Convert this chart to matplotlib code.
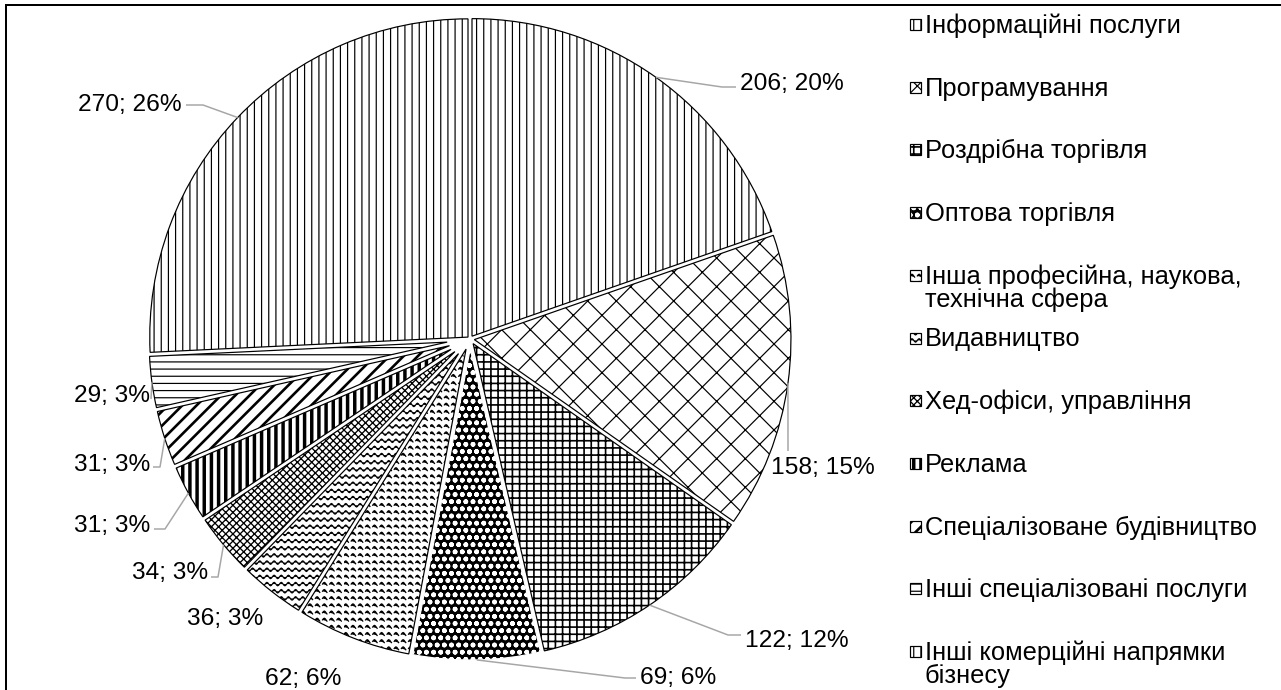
import warnings
import numpy as np
import matplotlib
matplotlib.use('Agg')
import matplotlib.pyplot as plt
from matplotlib import hatch as mhatch
from matplotlib.path import Path
from matplotlib.patches import Rectangle

warnings.filterwarnings('ignore', message='.*hatch.*')

W, H, DPI = 1281, 691, 86

categories = [
    'Інформаційні послуги',
    'Програмування',
    'Роздрібна торгівля',
    'Оптова торгівля',
    'Інша професійна, наукова,\nтехнічна сфера',
    'Видавництво',
    'Хед-офіси, управління',
    'Реклама',
    'Спеціалізоване будівництво',
    'Інші спеціалізовані послуги',
    'Інші комерційні напрямки\nбізнесу',
]
counts = [206, 158, 122, 69, 62, 36, 34, 31, 31, 29, 270]
shares = [20, 15, 12, 6, 6, 3, 3, 3, 3, 3, 26]

# Black and white fills, one per slice ('~' solid waves, 'w' broken waves, see below)
hatches = ['||', 'x', '++', 'oo', 'ww', '~~', 'xxxx', '||', '//', '--', '||']
faces = ['white', 'white', 'white', 'black', 'white', 'white', 'white', 'white', 'white', 'white', 'white']
hatch_widths = [1.0, 1.0, 1.4, 1.6, 1.0, 1.0, 1.1, 2.9, 2.2, 1.0, 1.0]


class WaveHatch(mhatch.HatchPatternBase):
    """Wavy horizontal lines: '~' draws them solid, 'w' draws them broken."""
    steps = 8

    def __init__(self, hatch, density):
        self.dashed = 'w' in hatch
        self.num_lines = int((hatch.count('~') + hatch.count('w')) * density)
        self.periods = max(self.num_lines, 1)
        self.num_vertices = self.num_lines * (self.periods * self.steps + 1)

    def set_vertices_and_codes(self, vertices, codes):
        n = self.periods * self.steps + 1
        xs = np.linspace(0, 1, n)
        wave = np.sin(2 * np.pi * self.periods * xs) * 0.24 / self.num_lines
        pen = np.full(n, Path.LINETO, dtype=codes.dtype)
        pen[0] = Path.MOVETO
        if self.dashed:
            j = np.arange(n) % self.steps
            pen[(j == 0) | (j > 5)] = Path.MOVETO
        for i in range(self.num_lines):
            sl = slice(i * n, (i + 1) * n)
            vertices[sl, 0] = xs
            vertices[sl, 1] = (i + 0.5) / self.num_lines + wave
            codes[sl] = pen


mhatch._hatch_types.append(WaveHatch)


def pt(px):
    return px * 72 / DPI


def ty(y):
    # image rows (from the top) -> data y
    return H - y


plt.rcParams['font.family'] = ['Liberation Sans', 'DejaVu Sans']
plt.rcParams['hatch.linewidth'] = 1.0

fig = plt.figure(figsize=(W / DPI, H / DPI), dpi=DPI)
ax = fig.add_axes([0, 0, 1, 1])

cx, cy, R = 470, ty(340), 321
gap = 2.0
half = np.radians(np.array(counts) / sum(counts) * 180)
shift = gap / np.sin(half)   # moves each slice so its sides sit `gap` px off the split line

wedges, _ = ax.pie(counts, startangle=90, counterclock=False, center=(cx, cy), radius=R,
                   explode=shift, colors=faces, hatch=hatches,
                   wedgeprops=dict(edgecolor='black', linewidth=pt(1.2)))
for w, s, fc, hw in zip(wedges, shift, faces, hatch_widths):
    w.set_radius(R - s)
    if fc == 'black':
        w.set_edgecolor('white')
    if hasattr(w, 'set_hatch_linewidth'):
        w.set_hatch_linewidth(hw)

ax.set_xlim(0, W)
ax.set_ylim(0, H)
ax.set_axis_off()

# data labels: text x, baseline (image rows), alignment, leader bend points
label_pos = [
    (740, 90, 'left', [(722, 88), (736, 88)]),
    (823, 474, 'center', [(788, 452)]),
    (745, 647, 'left', [(728, 636), (741, 636)]),
    (640, 684, 'left', [(625, 679), (636, 679)]),
    (303, 685, 'center', []),
    (225, 625, 'center', []),
    (208, 579, 'right', [(218, 578), (211, 578)]),
    (150, 532, 'right', [(165, 530), (154, 530)]),
    (150, 471, 'right', [(160, 468), (153, 468)]),
    (150, 402, 'right', [(151, 400)]),
    (182, 111, 'right', [(203, 106), (186, 106)]),
]
for w, n, p, (tx, tb, ha, bends) in zip(wedges, counts, shares, label_pos):
    mid = np.radians((w.theta1 + w.theta2) / 2)
    if bends:
        xs = [cx + R * np.cos(mid)] + [b[0] for b in bends]
        ys = [cy + R * np.sin(mid)] + [ty(b[1]) for b in bends]
        ax.plot(xs, ys, color='#a6a6a6', lw=pt(1.5), solid_capstyle='butt')
    ax.text(tx, ty(tb), f'{n}; {p}%', ha=ha, va='baseline', fontsize=pt(24.5), color='black')

# legend on the right
leg_x, leg_top, leg_step = 925, 33, 62.7
for i, (name, fc, h, hw) in enumerate(zip(categories, faces, hatches, hatch_widths)):
    base = leg_top + leg_step * i
    box = Rectangle((leg_x - 15, ty(base - 2)), 11, 11, facecolor=fc,
                    edgecolor='white' if fc == 'black' else 'black', hatch=h, lw=pt(1.2))
    if hasattr(box, 'set_hatch_linewidth'):
        box.set_hatch_linewidth(hw)
    ax.add_patch(box)
    if fc == 'black':
        ax.add_patch(Rectangle((leg_x - 15, ty(base - 2)), 11, 11, fill=False,
                               edgecolor='black', lw=pt(1.2)))
    for j, line in enumerate(name.split('\n')):
        ax.text(leg_x, ty(base + 23 * j), line, ha='left', va='baseline',
                fontsize=pt(25.5), color='black')

# chart area border (runs off the right and bottom edges)
ax.add_patch(Rectangle((6, -10), W + 20, ty(6) + 10, fill=False, edgecolor='black',
                       lw=pt(2), clip_on=False))

fig.savefig('out.png', dpi=DPI)
